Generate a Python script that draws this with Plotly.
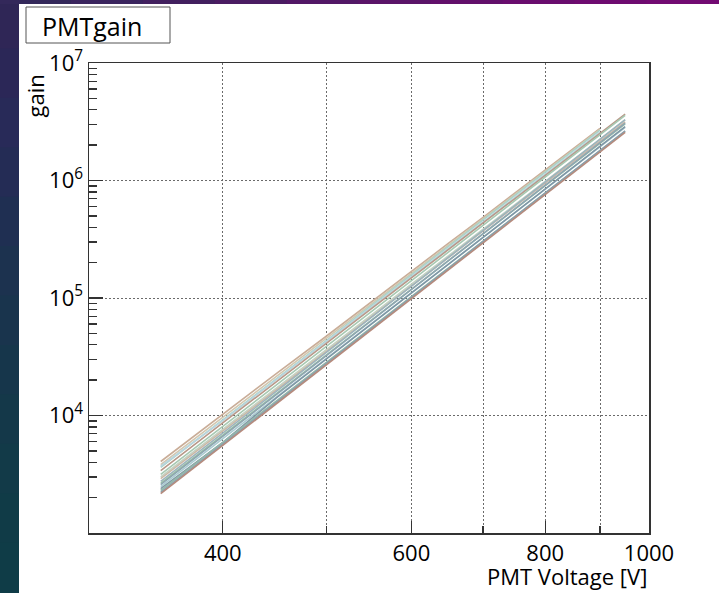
import plotly.graph_objects as go

# ---------------- data ----------------
voltages = [350, 400, 450, 500, 550, 600, 650, 700, 750, 800, 850, 900, 950]

gain_pmt01 = [4060, 10300, 23200, 47500, 92500, 168000, 293000, 486000, 785000, 1.23e6, 1.86e6, 2.78e6]
gain_pmt02 = [3820, 9650, 21700, 45300, 88400, 162000, 283000, 470000, 760000, 1.19e6, 1.82e6, 2.72e6]
gain_pmt03 = [3620, 9150, 21000, 43600, 85600, 157000, 275000, 462000, 748000, 1.17e6, 1.79e6, 2.68e6]
gain_pmt04 = [3700, 9050, 20600, 42700, 83000, 152000, 266000, 445000, 720000, 1.13e6, 1.72e6, 2.58e6]
gain_pmt05 = [3400, 8700, 19800, 41300, 80600, 148000, 259000, 436000, 705000, 1.11e6, 1.70e6, 2.54e6, 3.68e6]
gain_pmt06 = [3150, 8050, 18500, 38800, 76000, 141000, 247000, 416000, 676000, 1.07e6, 1.64e6, 2.45e6, 3.58e6]
gain_pmt07 = [3000, 7600, 17400, 36400, 71000, 131000, 229000, 384000, 621000, 980000, 1.50e6, 2.24e6, 3.28e6]
gain_pmt08 = [2900, 7400, 16900, 35200, 68700, 126000, 222000, 372000, 601000, 947000, 1.45e6, 2.16e6, 3.16e6]
gain_pmt09 = [2750, 7100, 16300, 34500, 68000, 126000, 222000, 376000, 614000, 972000, 1.50e6, 2.24e6, 3.29e6]
gain_pmt10 = [2650, 6800, 15600, 32800, 64300, 119000, 209000, 352000, 570000, 900000, 1.38e6, 2.07e6, 3.03e6]
gain_pmt11 = [2580, 6650, 15300, 32400, 63800, 118000, 209000, 354000, 577000, 912000, 1.40e6, 2.10e6, 3.08e6]
gain_pmt12 = [2480, 6350, 14600, 30700, 60100, 111000, 195000, 329000, 534000, 843000, 1.29e6, 1.93e6, 2.83e6]
gain_pmt13 = [2390, 5900, 14400, 30200, 59300, 110000, 194000, 328000, 536000, 847000, 1.30e6, 1.95e6, 2.87e6]
gain_pmt14 = [2300, 5880, 13500, 28400, 55800, 103000, 181000, 305000, 496000, 783000, 1.20e6, 1.79e6, 2.62e6]
gain_pmt15 = [2220, 5700, 13100, 27800, 54700, 101000, 179000, 303000, 494000, 781000, 1.20e6, 1.80e6, 2.64e6]
gain_pmt16 = [2160, 5560, 12800, 27100, 53300, 98800, 174000, 295000, 482000, 762000, 1.17e6, 1.75e6, 2.57e6]

series = [gain_pmt01, gain_pmt02, gain_pmt03, gain_pmt04, gain_pmt05, gain_pmt06,
          gain_pmt07, gain_pmt08, gain_pmt09, gain_pmt10, gain_pmt11, gain_pmt12,
          gain_pmt13, gain_pmt14, gain_pmt15, gain_pmt16]
colors = ["#c9ad98", "#d3c6ae", "#aad3c8", "#b9d5de", "#b89888", "#a7c9b2",
          "#c3d3c3", "#cbb8a6", "#9db4bd", "#97bfa4", "#8ea5b1", "#a9cbd0",
          "#7f97a5", "#93b9a9", "#8aa0ad", "#b58b7d"]

x_tick_vals = [400, 600, 800, 1000]
x_tick_text = ["400", "600", "800", "1000"]
x_minor_vals = [500, 700, 900]
y_tick_vals = [1e4, 1e5, 1e6, 1e7]
y_tick_text = ["10<sup>4</sup>", "10<sup>5</sup>", "10<sup>6</sup>", "10<sup>7</sup>"]
y_minor_vals = [m * 10 ** e for e in range(3, 7) for m in range(2, 10)]

FONT = "Open Sans"
GRID_DASH = "2px,2px"
GRID_COL = "#6a6a6a"

fig = go.Figure()
for g, c in zip(series, colors):
    fig.add_trace(go.Scatter(x=voltages[:len(g)], y=g, mode="lines",
                             line=dict(color=c, width=1.6), hoverinfo="skip",
                             showlegend=False))

W, H = 719, 593
L, R, T, B = 89, 70, 63, 60
pw, ph = W - L - R, H - T - B

def px(xp):
    return (xp - L) / pw

def py(yp):
    return (H - B - yp) / ph

shapes = []
# left decorative stripe (gradient approximated by overlapping bands)
left_cols = ["#2f2656", "#2b2757", "#282a58", "#242c55", "#1f2f52", "#1c324f",
             "#19344d", "#16364b", "#143849", "#123a48", "#103b47", "#0f3c47"]
nb = len(left_cols)
for i, c in enumerate(left_cols):
    y0 = i * H / nb - 1
    y1 = (i + 1) * H / nb + 1
    shapes.append(dict(type="rect", xref="paper", yref="paper",
                       x0=px(-2), x1=px(19), y0=py(y1), y1=py(y0),
                       fillcolor=c, line=dict(width=0), layer="above"))
# top decorative strip
top_cols = ["#33285a", "#3a245e", "#42205f", "#4a1c62", "#521866", "#5a1468",
            "#62106b", "#690d6e", "#6e0b70", "#720a72"]
nt = len(top_cols)
for i, c in enumerate(top_cols):
    x0 = i * W / nt - 1
    x1 = (i + 1) * W / nt + 1
    shapes.append(dict(type="rect", xref="paper", yref="paper",
                       x0=px(x0), x1=px(x1), y0=py(4), y1=py(-2),
                       fillcolor=c, line=dict(width=0), layer="above"))
# title box
shapes.append(dict(type="rect", xref="paper", yref="paper",
                   x0=px(26), x1=px(170), y0=py(43), y1=py(7),
                   fillcolor="white", line=dict(color="#555555", width=1)))

annotations = [
    dict(text="PMTgain", xref="paper", yref="paper", x=px(40), y=py(26),
         xanchor="left", yanchor="middle", showarrow=False,
         font=dict(family=FONT, size=25, color="black")),
    dict(text="gain", xref="paper", yref="paper", x=px(34), y=py(73),
         xanchor="center", yanchor="top", textangle=-90, showarrow=False,
         font=dict(family=FONT, size=22, color="black")),
    dict(text="PMT Voltage [V]", xref="paper", yref="paper", x=px(649), y=py(576),
         xanchor="right", yanchor="middle", showarrow=False,
         font=dict(family=FONT, size=22, color="black")),
]

fig.update_layout(
    width=W, height=H, autosize=False,
    margin=dict(l=L, r=R, t=T, b=B, pad=0),
    paper_bgcolor="white", plot_bgcolor="white",
    shapes=shapes, annotations=annotations,
    showlegend=False,
    xaxis=dict(type="log", range=[2.4771, 3.0],
               tickmode="array", tickvals=x_tick_vals, ticktext=x_tick_text,
               ticks="inside", ticklen=12, tickwidth=1.3, tickcolor="#333333",
               showgrid=True, gridcolor=GRID_COL, griddash=GRID_DASH, gridwidth=1,
               minor=dict(tickmode="array", tickvals=x_minor_vals, ticks="inside",
                          ticklen=7, tickcolor="#333333", showgrid=True,
                          gridcolor=GRID_COL, griddash=GRID_DASH, gridwidth=1),
               showline=True, mirror=True, linecolor="#333333", linewidth=1.5,
               zeroline=False,
               tickfont=dict(family=FONT, size=22, color="black")),
    yaxis=dict(type="log", range=[3, 7],
               tickmode="array", tickvals=y_tick_vals, ticktext=y_tick_text,
               ticks="inside", ticklen=14, tickwidth=1.3, tickcolor="#333333",
               showgrid=True, gridcolor=GRID_COL, griddash=GRID_DASH, gridwidth=1,
               minor=dict(tickmode="array", tickvals=y_minor_vals, ticks="inside",
                          ticklen=8, tickcolor="#333333", showgrid=False),
               showline=True, mirror=True, linecolor="#333333", linewidth=1.5,
               zeroline=False,
               tickfont=dict(family=FONT, size=22, color="black")),
)

fig.write_html("out.html", config={"displayModeBar": False, "staticPlot": True},
               post_script="document.body.style.margin='0px';document.body.style.overflow='hidden';")
